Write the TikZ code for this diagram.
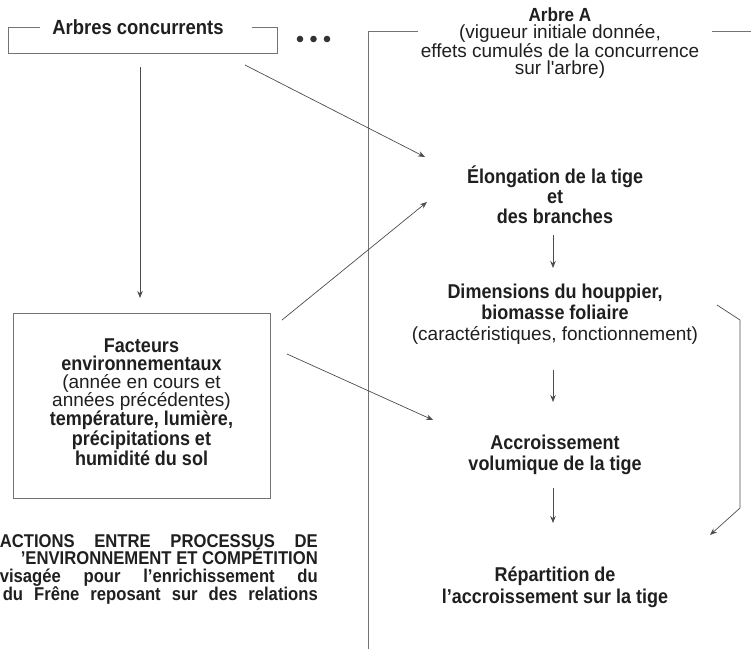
\documentclass[tikz,border=0pt]{standalone}
\usepackage{fontspec}
\setmainfont{Liberation Sans}[FakeStretch=0.9]
\newfontfamily\rgfont{Liberation Sans}
\usetikzlibrary{arrows.meta}
\begin{document}
\begin{tikzpicture}[x=1pt,y=-1pt,
  txt/.style={align=center, inner sep=0pt, text=black!88},
  arr/.style={draw=black!70, line width=0.7pt, -{Stealth[length=7pt,width=5.5pt]}},
  frame/.style={draw=black!55, line width=0.8pt},
  captxt/.style={anchor=base east, inner sep=0pt, text=black!88, font=\fontsize{18.5}{18}\selectfont\bfseries}]
\useasboundingbox (0,0) rectangle (751,649);

% Arbres concurrents box
\node[inner sep=0pt, minimum width=268pt, minimum height=25pt] (conc) at (143,40.5) {};
\draw[frame] ([xshift=31pt]conc.north west) -- (conc.north west) -- (conc.south west)
  -- (conc.south east) -- (conc.north east) -- ([xshift=-25pt]conc.north east);
\node[txt, font=\fontsize{20.5}{20}\selectfont\bfseries] (conclab) at (138,27) {Arbres concurrents};
\fill[black!80] (300,39) circle (3.3pt) (313.5,39) circle (3.3pt) (327,39) circle (3.3pt);

% Arbre A frame
\draw[frame] (418,31) -- (368,31) -- (368,649);
\draw[frame] (712,31) -- (751,31);
\node[txt, font=\fontsize{19}{17}\selectfont] (arbreA) at (560,43)
  {{\bfseries Arbre A}\\{\rgfont (vigueur initiale donnée,}\\{\rgfont effets cumulés de la concurrence}\\{\rgfont sur l'arbre)}};

% right column
\node[txt, font=\fontsize{20}{20}\selectfont\bfseries] (elong) at (555,195)
  {Élongation de la tige\\et\\des branches};
\node[txt, font=\fontsize{20}{21}\selectfont] (dim) at (555,314)
  {{\bfseries Dimensions du houppier,}\\{\bfseries biomasse foliaire}\\{\rgfont\fontsize{19}{21}\selectfont (caractéristiques, fonctionnement)}};
\node[txt, font=\fontsize{20}{21}\selectfont\bfseries] (accr) at (555,455)
  {Accroissement\\volumique de la tige};
\node[txt, font=\fontsize{20}{22}\selectfont\bfseries] (rep) at (555,587)
  {Répartition de\\l'accroissement sur la tige};

% Facteurs box
\node[draw=black!55, line width=0.8pt, inner sep=0pt, minimum width=257pt, minimum height=185pt] (factbox) at (141.5,405.5) {};
\node[txt, font=\fontsize{20}{18}\selectfont] (fact) at (141.5,402)
  {{\bfseries Facteurs}\\{\bfseries environnementaux}\\{\rgfont\fontsize{19}{18}\selectfont (année en cours et}\\{\rgfont\fontsize{19}{18}\selectfont années précédentes)}\\{\bfseries température, lumière,}\\{\bfseries précipitations et}\\{\bfseries humidité du sol}};

% caption
\node[captxt] (cap1) at (318,547) {\makebox[318pt][s]{ACTIONS ENTRE PROCESSUS DE}};
\node[captxt] (cap2) at (318,564) {'ENVIRONNEMENT ET COMPÉTITION};
\node[captxt] (cap3) at (318,582) {\makebox[318pt][s]{visagée pour l'enrichissement du}};
\node[captxt] (cap4) at (318,600) {\makebox[315pt][s]{du Frêne reposant sur des relations}};

% connectors
\draw[arr] ([shift={(-3,26.5)}]conc.center) -- ([shift={(-1.5,-107.5)}]factbox.center);
\draw[arr] ([shift={(102,24.5)}]conc.center) -- ([shift={(-130,-38)}]elong.center);
\draw[arr] ([shift={(140.5,-85.5)}]factbox.center) -- ([shift={(-128,7)}]elong.center);
\draw[arr] ([shift={(145.5,-51.5)}]factbox.center) -- ([shift={(-122,-35)}]accr.center);
\draw[arr] ([shift={(-2,40)}]elong.center) -- ([shift={(-2,-46)}]dim.center);
\draw[arr] ([shift={(-2,56)}]dim.center) -- ([shift={(-2,-53)}]accr.center);
\draw[arr] ([shift={(-2,33)}]accr.center) -- ([shift={(-2,-64)}]rep.center);
\draw[arr] ([shift={(162,-9)}]dim.center) -- ++(23,15) -- ++(0,188) -- ([shift={(155,-52)}]rep.center);
\end{tikzpicture}
\end{document}
